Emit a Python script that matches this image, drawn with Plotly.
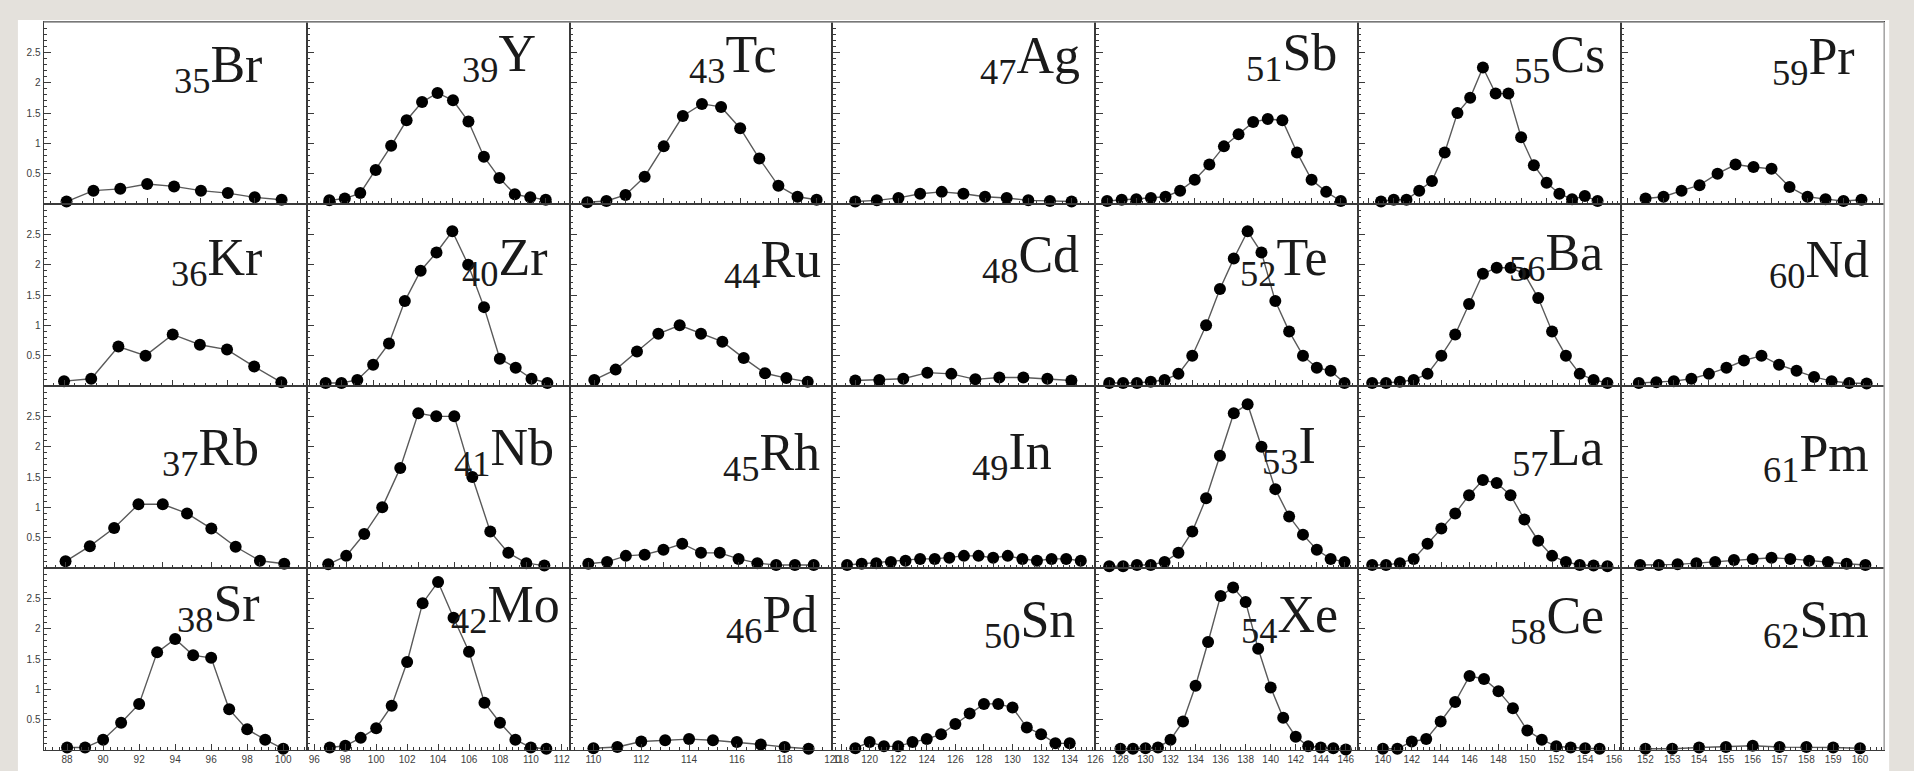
import plotly.graph_objects as go

# ---------------- data ----------------
symbols = ["Br", "Y", "Tc", "Ag", "Sb", "Cs", "Pr",
           "Kr", "Zr", "Ru", "Cd", "Te", "Ba", "Nd",
           "Rb", "Nb", "Rh", "In", "I", "La", "Pm",
           "Sr", "Mo", "Pd", "Sn", "Xe", "Ce", "Sm"]
atomic_numbers = [35, 39, 43, 47, 51, 55, 59,
                  36, 40, 44, 48, 52, 56, 60,
                  37, 41, 45, 49, 53, 57, 61,
                  38, 42, 46, 50, 54, 58, 62]
first_mass = [83, 90, 100, 112, 118, 133, 143,
              86, 91, 104, 114, 122, 135, 144,
              88, 95, 106, 112, 125, 137, 147,
              88, 97, 110, 119, 128, 140, 152]

br = [0.04, 0.22, 0.25, 0.33, 0.29, 0.22, 0.18, 0.11, 0.07]
y_ = [0.06, 0.09, 0.18, 0.56, 0.96, 1.38, 1.68, 1.83, 1.71, 1.36, 0.78, 0.43, 0.16, 0.11, 0.07]
tc = [0.03, 0.05, 0.15, 0.45, 0.95, 1.45, 1.65, 1.6, 1.25, 0.75, 0.3, 0.12, 0.07]
ag = [0.04, 0.06, 0.1, 0.17, 0.2, 0.17, 0.12, 0.1, 0.06, 0.05, 0.04]
sb = [0.05, 0.07, 0.08, 0.1, 0.12, 0.22, 0.4, 0.65, 0.95, 1.15, 1.35, 1.4, 1.38, 0.85, 0.4, 0.2, 0.05]
cs = [0.04, 0.07, 0.07, 0.22, 0.38, 0.85, 1.5, 1.75, 2.25, 1.82, 1.82, 1.1, 0.64, 0.35, 0.17, 0.08, 0.13, 0.05]
pr = [0.09, 0.12, 0.22, 0.31, 0.5, 0.65, 0.61, 0.58, 0.28, 0.12, 0.08, 0.05, 0.07]

kr = [0.08, 0.12, 0.65, 0.5, 0.85, 0.68, 0.6, 0.32, 0.06]
zr = [0.05, 0.05, 0.1, 0.35, 0.7, 1.4, 1.9, 2.2, 2.55, 2.0, 1.3, 0.45, 0.3, 0.12, 0.05]
ru = [0.1, 0.27, 0.57, 0.86, 1.0, 0.86, 0.73, 0.46, 0.21, 0.13, 0.07]
cd = [0.09, 0.1, 0.12, 0.22, 0.2, 0.11, 0.14, 0.14, 0.12, 0.09]
te = [0.05, 0.05, 0.05, 0.07, 0.1, 0.2, 0.5, 1.0, 1.6, 2.1, 2.55, 2.2, 1.4, 0.9, 0.5, 0.3, 0.25, 0.05]
ba = [0.05, 0.05, 0.07, 0.1, 0.2, 0.5, 0.85, 1.35, 1.85, 1.95, 1.95, 1.85, 1.45, 0.9, 0.5, 0.2, 0.1, 0.05]
nd = [0.05, 0.06, 0.08, 0.12, 0.2, 0.3, 0.42, 0.5, 0.35, 0.25, 0.15, 0.08, 0.05, 0.04]

rb = [0.11, 0.36, 0.66, 1.05, 1.05, 0.9, 0.65, 0.35, 0.12, 0.07]
nb = [0.06, 0.2, 0.56, 1.0, 1.65, 2.55, 2.5, 2.5, 1.5, 0.6, 0.25, 0.08, 0.04]
rh = [0.07, 0.1, 0.2, 0.22, 0.3, 0.4, 0.25, 0.25, 0.15, 0.08, 0.05, 0.05, 0.05]
in_ = [0.05, 0.07, 0.08, 0.1, 0.12, 0.15, 0.15, 0.17, 0.2, 0.2, 0.17, 0.2, 0.15, 0.12, 0.15, 0.15, 0.12]
i_ = [0.03, 0.03, 0.05, 0.05, 0.1, 0.25, 0.6, 1.15, 1.85, 2.55, 2.7, 2.0, 1.3, 0.85, 0.55, 0.3, 0.15, 0.1]
la = [0.05, 0.05, 0.08, 0.15, 0.4, 0.65, 0.9, 1.2, 1.45, 1.4, 1.2, 0.8, 0.45, 0.2, 0.1, 0.05, 0.04, 0.03]
pm = [0.05, 0.05, 0.06, 0.08, 0.1, 0.13, 0.15, 0.17, 0.15, 0.12, 0.1, 0.07, 0.05]

sr = [0.04, 0.04, 0.17, 0.45, 0.76, 1.61, 1.83, 1.56, 1.52, 0.67, 0.34, 0.17, 0.02]
mo = [0.04, 0.07, 0.2, 0.36, 0.73, 1.45, 2.42, 2.77, 2.18, 1.62, 0.78, 0.45, 0.17, 0.04, 0.02]
pd_ = [0.03, 0.05, 0.14, 0.16, 0.18, 0.16, 0.13, 0.09, 0.05, 0.02]
sn = [0.03, 0.13, 0.06, 0.06, 0.13, 0.18, 0.26, 0.43, 0.6, 0.76, 0.76, 0.7, 0.37, 0.26, 0.11, 0.11]
xe = [0.02, 0.02, 0.03, 0.04, 0.17, 0.47, 1.06, 1.78, 2.54, 2.68, 2.44, 1.67, 1.03, 0.53, 0.22, 0.06, 0.04, 0.03, 0.01]
ce = [0.02, 0.02, 0.14, 0.18, 0.47, 0.79, 1.22, 1.17, 0.97, 0.69, 0.32, 0.17, 0.06, 0.04, 0.03, 0.02]
sm = [0.02, 0.02, 0.04, 0.05, 0.07, 0.05, 0.05, 0.04, 0.03]

yields = [br, y_, tc, ag, sb, cs, pr,
          kr, zr, ru, cd, te, ba, nd,
          rb, nb, rh, in_, i_, la, pm,
          sr, mo, pd_, sn, xe, ce, sm]

# bottom-row mass-number tick labels, one list per column
col_ticks = [
    [88, 90, 92, 94, 96, 98, 100],
    [96, 98, 100, 102, 104, 106, 108, 110, 112],
    [110, 112, 114, 116, 118, 120],
    [118, 120, 122, 124, 126, 128, 130, 132, 134],
    [126, 128, 130, 132, 134, 136, 138, 140, 142, 144, 146],
    [140, 142, 144, 146, 148, 150, 152, 154, 156],
    [152, 153, 154, 155, 156, 157, 158, 159, 160],
]
y_tick_vals = [0.5, 1, 1.5, 2, 2.5]
y_tick_text = ["0.5", "1", "1.5", "2", "2.5"]

# ---------------- layout constants (pixels) ----------------
W, H = 1914, 771
LEFT, RIGHT, TOP, BOTTOM = 36, 1893, 22, 750
NC, NR = 7, 4
CW = (RIGHT - LEFT) / NC
RH = (BOTTOM - TOP) / NR

# empty space (in mass units) left/right of first/last point in each panel
pad_l = [0.85, 1.47, 0.93, 1.05, 0.8, 1.78, 1.35,
         0.75, 1.2, 1.16, 0.95, 1.0, 1.0, 1.0,
         0.9, 1.2, 1.0, 1.0, 1.0, 1.0, 1.0,
         1.3, 1.5, 1.0, 1.6, 2.0, 1.7, 0.9]
pad_r = [0.93, 1.54, 0.83, 1.1, 1.2, 1.86, 1.26,
         0.93, 1.4, 1.16, 1.0, 1.0, 1.0, 1.0,
         0.92, 1.4, 1.0, 1.0, 1.0, 1.0, 1.0,
         1.3, 1.5, 1.0, 1.8, 1.0, 1.5, 0.9]

# label anchor: right edge x and baseline y (pixels)
label_pos = [(258, 83), (535, 72), (778, 73), (1084, 74), (1343, 71), (1613, 73), (1866, 75),
             (258, 276), (546, 276), (822, 278), (1083, 273), (1334, 276), (1611, 271), (1880, 278),
             (255, 466), (553, 466), (821, 471), (1055, 470), (1322, 464), (1611, 466), (1880, 472),
             (256, 622), (559, 623), (818, 633), (1079, 638), (1344, 633), (1612, 634), (1880, 638)]

LABEL_SIZE = 52
AXIS_COL = "#3a3a3a"
TICK_FONT = dict(family="Liberation Sans, Arial, sans-serif", size=10, color="#3c3c3c")

fig = go.Figure()
layout = dict(
    width=W, height=H,
    margin=dict(l=0, r=0, t=0, b=0),
    paper_bgcolor="#e4e1dc",
    plot_bgcolor="white",
    showlegend=False,
)
annotations = []

for k in range(NR * NC):
    r, c = divmod(k, NC)
    ax = "" if k == 0 else str(k + 1)
    vals = yields[k]
    masses = list(range(first_mass[k], first_mass[k] + len(vals)))
    fig.add_trace(go.Scatter(
        x=masses, y=vals, mode="lines+markers",
        xaxis="x" + ax, yaxis="y" + ax,
        line=dict(color="#5a5a5a", width=1.4),
        marker=dict(color="black", size=12),
        cliponaxis=False, hoverinfo="skip",
    ))
    x0 = LEFT + c * CW
    x1 = x0 + CW
    y0 = TOP + r * RH
    y1 = y0 + RH
    bottom = (r == NR - 1)
    xa = dict(
        domain=[x0 / W, x1 / W], anchor="y" + ax,
        range=[masses[0] - pad_l[k], masses[-1] + pad_r[k]],
        showgrid=False, zeroline=False,
        showline=True, mirror=True, linecolor=AXIS_COL, linewidth=1.3,
        ticks="inside", ticklen=6, tickcolor=AXIS_COL, tickwidth=1,
        tickfont=TICK_FONT,
    )
    if bottom:
        step = col_ticks[c][1] - col_ticks[c][0]
        xa.update(tickmode="array", tickvals=col_ticks[c],
                  ticktext=[str(t) for t in col_ticks[c]], showticklabels=True,
                  minor=dict(ticks="inside", ticklen=3, tickcolor=AXIS_COL,
                             dtick=step / 5, tick0=col_ticks[c][0]))
    else:
        xa.update(dtick=2, showticklabels=False,
                  minor=dict(ticks="inside", ticklen=3, tickcolor=AXIS_COL, dtick=0.4))
    ya = dict(
        domain=[1 - y1 / H, 1 - y0 / H], anchor="x" + ax,
        range=[0, 3], showgrid=False, zeroline=False,
        showline=True, mirror=True, linecolor=AXIS_COL, linewidth=1.3,
        ticks="inside", ticklen=7, tickcolor=AXIS_COL, tickwidth=1,
        tickmode="array", tickvals=y_tick_vals, ticktext=y_tick_text,
        showticklabels=(c == 0), tickfont=TICK_FONT,
        minor=dict(ticks="inside", ticklen=3, tickcolor=AXIS_COL, dtick=0.1),
    )
    layout["xaxis" + ax] = xa
    layout["yaxis" + ax] = ya

    lx, ly = label_pos[k]
    annotations.append(dict(
        xref="paper", yref="paper", x=lx / W, y=1 - (ly + 20) / H,
        xanchor="right", yanchor="bottom", showarrow=False,
        text="<sub>%d</sub>%s" % (atomic_numbers[k], symbols[k]),
        font=dict(family="Liberation Serif, Times New Roman, serif", size=LABEL_SIZE, color="#1a1a1a"),
    ))

layout["annotations"] = annotations
layout["shapes"] = [
    dict(type="rect", xref="paper", yref="paper", layer="below",
         x0=10 / W, x1=1898 / W, y0=0, y1=1 - 20 / H,
         fillcolor="white", line=dict(width=0)),
    # lighter outer top and right frame edges
    dict(type="line", xref="paper", yref="paper", layer="above",
         x0=LEFT / W, x1=RIGHT / W, y0=1 - TOP / H, y1=1 - TOP / H,
         line=dict(color="#8c8c8c", width=1.6)),
    dict(type="line", xref="paper", yref="paper", layer="above",
         x0=RIGHT / W, x1=RIGHT / W, y0=1 - TOP / H, y1=1 - BOTTOM / H,
         line=dict(color="#a8a8a8", width=1.6)),
]
fig.update_layout(**layout)

fig.write_html("out.html", config={"displayModeBar": False},
               post_script="document.body.style.margin='0';document.body.style.overflow='hidden';")
